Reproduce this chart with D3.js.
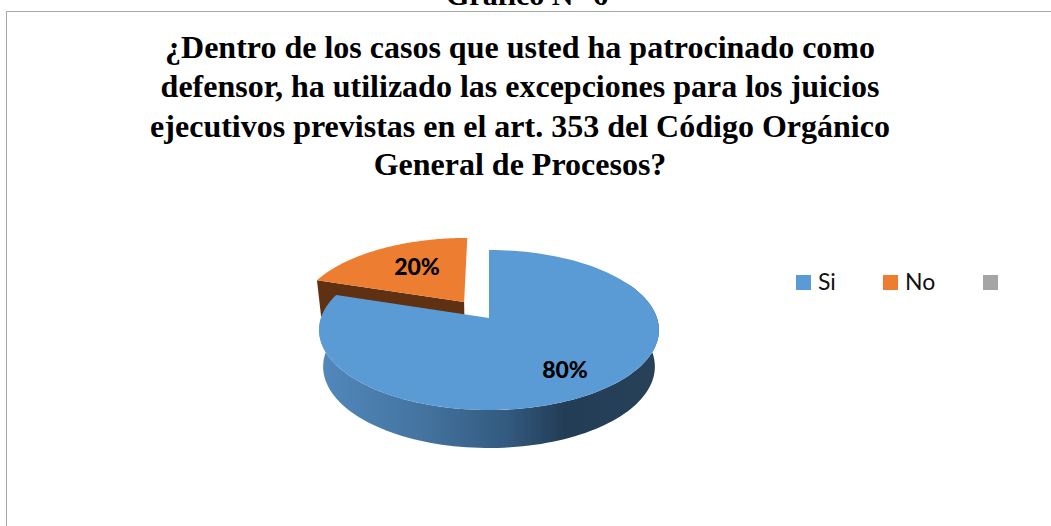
<!DOCTYPE html>
<html>
<head>
<meta charset="utf-8">
<script src="https://cdn.jsdelivr.net/npm/d3@7"></script>
<style>
  html, body { margin: 0; padding: 0; background: #fff; overflow: hidden; }
  svg { display: block; }
</style>
</head>
<body>
<svg id="chart" width="1051" height="526"></svg>
<script>
// data
const categories = ["Si", "No", ""];
const values = [80, 20, 0];
const labels = ["80%", "20%", ""];
const colors = ["#5b9bd5", "#ed7d31", "#a5a5a5"];
const titleLines = [
  "¿Dentro de los casos que usted ha patrocinado como",
  "defensor, ha utilizado las excepciones para los juicios",
  "ejecutivos previstas en el art. 353 del Código Orgánico",
  "General de Procesos?"
];

const svg = d3.select("#chart");
const width = 1051, height = 526;

// heading of the page, cut off by the top of the picture
svg.append("text")
  .attr("x", 527).attr("y", 5)
  .attr("text-anchor", "middle")
  .attr("font-family", "Liberation Serif")
  .attr("font-weight", "bold")
  .attr("font-size", 30)
  .text("Gráfico N° 6");

// chart frame, only top and left show
svg.append("path")
  .attr("d", "M6.5," + height + "V11.5H" + width)
  .attr("fill", "none")
  .attr("stroke", "#a6a6a6")
  .attr("stroke-width", 1);

// title
const titleY = [58, 97, 137, 175];
svg.append("g").selectAll("text")
  .data(titleLines)
  .join("text")
  .attr("x", 520)
  .attr("y", (d, i) => titleY[i])
  .attr("text-anchor", "middle")
  .attr("font-family", "Liberation Serif")
  .attr("font-weight", "bold")
  .attr("font-size", 32)
  .text(d => d);

// pie slices, angles from d3.pie
const arcs = d3.pie().sort(null).value(d => d)(values);
const cx = 489;
const persp = 0.15;

// unit disk -> screen, tilted with a bit of perspective
const topPlane = (u, v) => [
  cx + 168 * u / (1 + persp * v),
  (318 - 30.5 * v) / (1 + persp * v)
];
const bottomPlane = (u, v) => [
  cx + 164 * u / (1 + persp * v),
  (354.4 - 26.4 * v) / (1 + persp * v)
];
const rim = (plane, a, ox, oy) => plane(ox + Math.sin(a), oy + Math.cos(a));
const sweep = (plane, a0, a1, ox, oy) =>
  d3.range(0, 121).map(i => rim(plane, a0 + (a1 - a0) * i / 120, ox, oy));
const line = d3.line();

const defs = svg.append("defs");
const grad = defs.append("linearGradient")
  .attr("id", "wall")
  .attr("gradientUnits", "userSpaceOnUse")
  .attr("x1", 320).attr("x2", 659).attr("y1", 0).attr("y2", 0);
[[0, "#5288bd"], [0.3, "#44749f"], [0.55, "#335a80"], [0.72, "#233d56"], [1, "#264158"]]
  .forEach(s => grad.append("stop").attr("offset", s[0]).attr("stop-color", s[1]));

const main = arcs[0], slice = arcs[1];

// "No" slice is pulled out from the centre
const pull = 0.26;
const mid = (slice.startAngle + slice.endAngle) / 2;
const ox = pull * Math.sin(mid), oy = pull * Math.cos(mid);

svg.append("path")
  .attr("d", line([
    rim(topPlane, slice.startAngle, ox, oy),
    rim(bottomPlane, slice.startAngle, ox, oy),
    bottomPlane(ox, oy),
    topPlane(ox, oy)
  ]) + "Z")
  .attr("fill", "#5f3112");

svg.append("path")
  .attr("d", line([
    topPlane(ox, oy),
    ...sweep(topPlane, slice.startAngle, slice.endAngle, ox, oy)
  ]) + "Z")
  .attr("fill", colors[1]);

// side wall of the big slice, then its top
const wallFrom = Math.PI * 0.35;
const wallTo = main.endAngle;
svg.append("path")
  .attr("d", line([
    ...sweep(topPlane, wallFrom, wallTo, 0, 0),
    ...sweep(bottomPlane, wallFrom, wallTo, 0, 0).reverse()
  ]) + "Z")
  .attr("fill", "url(#wall)");

svg.append("path")
  .attr("d", line([
    topPlane(0, 0),
    ...sweep(topPlane, main.startAngle, main.endAngle, 0, 0)
  ]) + "Z")
  .attr("fill", colors[0]);

// data labels
const labelPos = [[565, 378], [417, 275]];
svg.append("g").selectAll("text")
  .data(labels.slice(0, 2))
  .join("text")
  .attr("x", (d, i) => labelPos[i][0])
  .attr("y", (d, i) => labelPos[i][1])
  .attr("text-anchor", "middle")
  .attr("font-family", "Lato")
  .attr("font-weight", "900")
  .attr("font-size", 23)
  .text(d => d);

// legend
const legendX = [796, 883, 983];
const legend = svg.append("g").selectAll("g")
  .data(categories)
  .join("g")
  .attr("transform", (d, i) => "translate(" + legendX[i] + ",275)");
legend.append("rect")
  .attr("width", 15).attr("height", 15)
  .attr("fill", (d, i) => colors[i]);
legend.append("text")
  .attr("x", 22).attr("y", 15)
  .attr("font-family", "Lato")
  .attr("font-size", 23)
  .attr("fill", "#111")
  .text(d => d);
</script>
</body>
</html>
